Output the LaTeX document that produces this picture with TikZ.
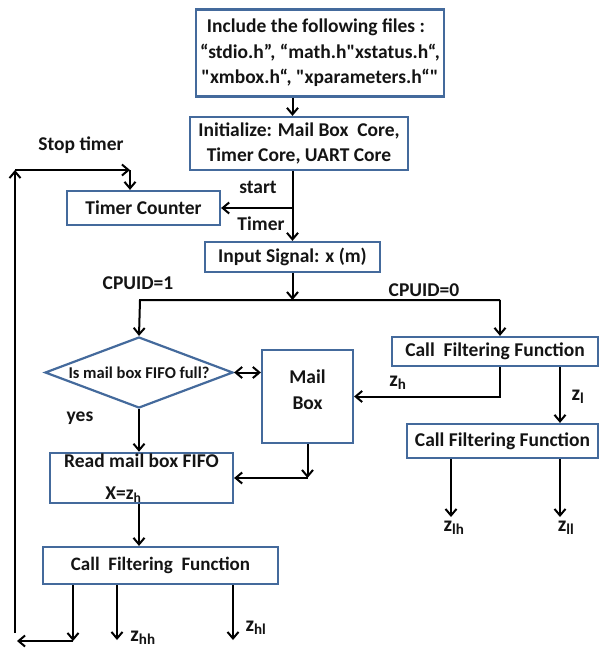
\documentclass[tikz,border=0pt]{standalone}
\usepackage{fontspec}
\newfontfamily\carl{Carlito}
\usetikzlibrary{shapes.geometric,arrows.meta}
\definecolor{boxblue}{RGB}{68,106,156}
\definecolor{ink}{RGB}{20,20,20}
\begin{document}
\begin{tikzpicture}[x=1pt,y=-1pt,
  every node/.style={font=\carl\bfseries\fontsize{19.5}{25.5}\selectfont,text=ink},
  blk/.style 2 args={draw=boxblue,line width=2.2pt,minimum width=#1,minimum height=#2,align=center,inner sep=1pt},
  arr/.style={-{Straight Barb[length=6.5pt,width=11pt]},line width=2pt},
  zlab/.style={font=\carl\bfseries\fontsize{21.5}{22}\selectfont}]
\useasboundingbox (0,0) rectangle (599,648);
\node[blk={248pt}{87pt}] (inc) at (320,53) {Include the following files :\hspace*{8pt}\\“stdio.h”, “math.h"xstatus.h“,\\"xmbox.h“, "xparameters.h“"};
\node[blk={218pt}{53pt}] (init) at (299,143.5) {Initialize: Mail Box~ Core,\\Timer Core, UART Core};
\node[blk={153pt}{34pt}] (timer) at (143.5,208) {Timer Counter};
\node[blk={175pt}{30pt}] (input) at (292.5,257) {Input Signal: x (m)};
\node[draw=boxblue,line width=2.2pt,diamond,minimum width=188pt,minimum height=71pt,inner sep=0pt] (fifo) at (139,372.5) {};
\node[font=\carl\bfseries\fontsize{16.5}{18}\selectfont] (fifotxt) at (fifo) {Is mail box FIFO full?};
\node[blk={91pt}{93pt}] (mbox) at (307.5,396.5) {Mail\\Box\\[-11.5pt]};
\node[blk={206pt}{29pt}] (cffa) at (495,351.5) {Call~ Filtering Function};
\node[blk={191pt}{34pt}] (cffb) at (502.5,441) {Call Filtering Function};
\node[blk={183pt}{50pt}] (read) at (141.5,478) {Read mail box FIFO\\[6pt]X=z\textsubscript{h}\hspace*{36pt}};
\node[blk={235pt}{37pt},font=\carl\bfseries\fontsize{19}{25}\selectfont] (cffc) at (160.5,565.5) {Call~ Filtering~ Function};
\coordinate (cl) at (140,300);\coordinate (cr) at (500,300);\coordinate (zlx) at (560,0);
\coordinate (lb) at (15,633);\coordinate (lt) at (15,170);\coordinate (tt) at (130,170);
\coordinate (lha) at (451,517);\coordinate (lla) at (560,517);
\coordinate (b1) at (73,641);\coordinate (b2) at (117,640);\coordinate (b3) at (233,640);\coordinate (b0) at (17,641);
\draw[arr] (inc.south -| input) -- (init.north -| input);
\draw[arr] (init.south -| input) -- (input.north);
\draw[arr] (timer.east -| input) -- (timer.east);
\draw[arr] (lb) -- (lt);\draw[arr] (lt) -- (tt);\draw[arr] (tt) -- (tt |- timer.north);
\draw[arr] (input.south) -- (input.south |- cl);
\draw[arr] (cr) -- (cl) -- (fifo.north);\draw[arr] (cr) -- (cr |- cffa.north);
\draw[{Straight Barb[length=6.5pt,width=11pt]}-{Straight Barb[length=6.5pt,width=11pt]},line width=2pt] (fifo.east) -- (mbox.west |- fifo.east);
\draw[arr] (cr |- cffa.south) |- (mbox.east);
\draw[arr] (zlx |- cffa.south) -- (zlx |- cffb.north);
\draw[arr] (lha |- cffb.south) -- (lha);\draw[arr] (lla |- cffb.south) -- (lla);
\draw[arr] (fifo.south) -- (fifo.south |- read.north);
\draw[arr] (mbox.south) -- (mbox.south |- read.east);\draw[arr] (mbox.south |- read.east) -- (read.east);
\draw[arr] (read.south -| fifo) -- (cffc.north -| fifo);
\draw[arr] (b1 |- cffc.south) -- (b1);\draw[arr] (b1) -- (b0);
\draw[arr] (b2 |- cffc.south) -- (b2);\draw[arr] (b3 |- cffc.south) -- (b3);
\node (stop) at (81,145) {Stop timer};
\node (start) at (258,187) {start};
\node (tlab) at (261,224) {Timer};
\node (cpu1) at (138,283) {CPUID=1};
\node (cpu0) at (424,290) {CPUID=0};
\node (yes) at (80,418) {yes};
\node[zlab] (zh) at (398,383) {z\textsubscript{h}};
\node[zlab] (zl) at (578,397) {z\textsubscript{l}};
\node[zlab] (zlh) at (454,528) {z\textsubscript{lh}};
\node[zlab] (zll) at (566,528) {z\textsubscript{ll}};
\node[zlab] (zhh) at (143,638) {z\textsubscript{hh}};
\node[zlab] (zhl) at (256,628) {z\textsubscript{hl}};
\end{tikzpicture}
\end{document}
